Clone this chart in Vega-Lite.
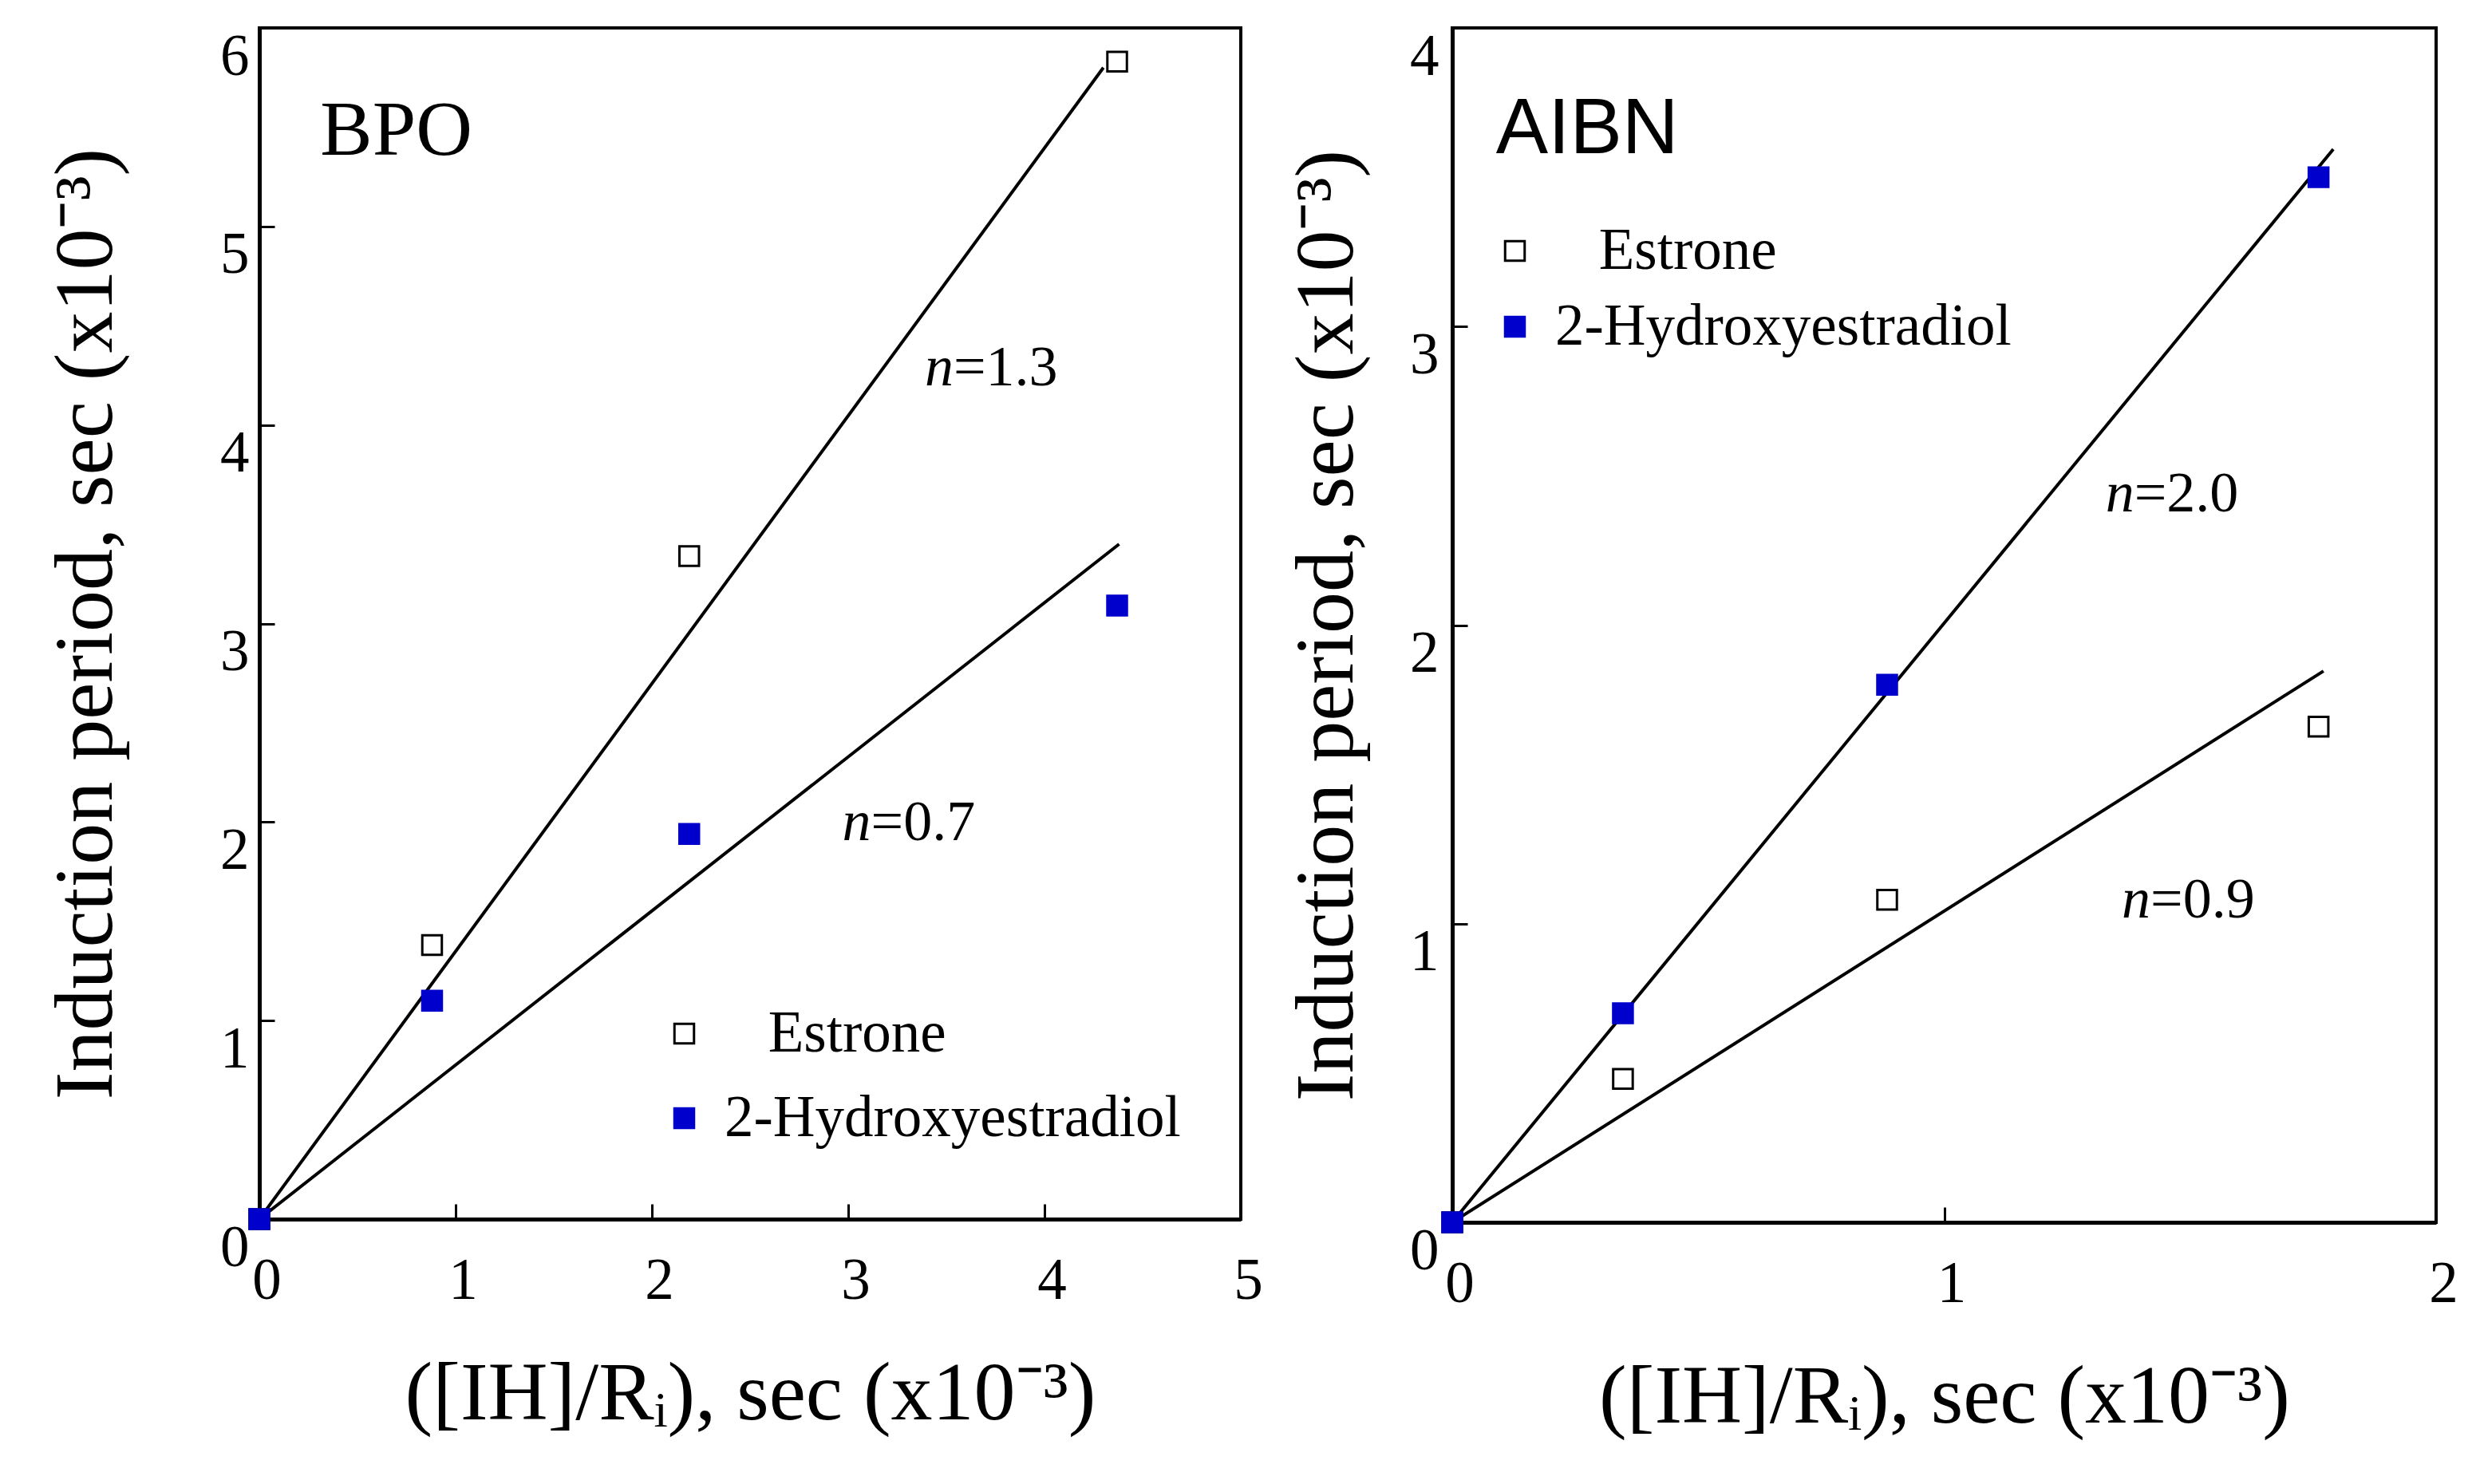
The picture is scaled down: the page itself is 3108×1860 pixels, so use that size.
{
  "$schema": "https://vega.github.io/schema/vega-lite/v6.json",
  "background": "white",
  "padding": {"left": 54, "top": 31, "right": 0, "bottom": 0},
  "spacing": 24,
  "config": {
    "font": "Liberation Serif",
    "view": {"stroke": "black", "strokeWidth": 4},
    "axis": {
      "grid": false,
      "domainColor": "black",
      "domainWidth": 5,
      "tickColor": "black",
      "tickWidth": 3,
      "tickSize": -19,
      "labelFlush": false,
      "labelOverlap": false,
      "labelFont": "Liberation Serif",
      "labelFontSize": 73,
      "labelColor": "black",
      "titleFont": "Liberation Serif",
      "titleFontSize": 104,
      "titleFontWeight": "normal",
      "titleColor": "black"
    },
    "legend": {
      "title": null,
      "labelFont": "Liberation Serif",
      "labelFontSize": 73,
      "labelColor": "black",
      "labelLimit": 2000,
      "symbolSize": 600,
      "symbolStrokeWidth": 3,
      "labelOffset": 14,
      "padding": 0
    }
  },
  "datasets": {
    "bpo_points": [
      {"x": 0, "y": 0, "series": "Estrone"},
      {"x": 0.88, "y": 1.38, "series": "Estrone"},
      {"x": 2.19, "y": 3.34, "series": "Estrone"},
      {"x": 4.37, "y": 5.83, "series": "Estrone"},
      {"x": 0, "y": 0, "series": "2-Hydroxyestradiol"},
      {"x": 0.88, "y": 1.1, "series": "2-Hydroxyestradiol"},
      {"x": 2.19, "y": 1.94, "series": "2-Hydroxyestradiol"},
      {"x": 4.37, "y": 3.09, "series": "2-Hydroxyestradiol"}
    ],
    "bpo_lines": [
      {"x": 0, "y": 0, "fit": "n=1.3"},
      {"x": 4.3, "y": 5.8, "fit": "n=1.3"},
      {"x": 0, "y": 0, "fit": "n=0.7"},
      {"x": 4.38, "y": 3.4, "fit": "n=0.7"}
    ],
    "aibn_points": [
      {"x": 0, "y": 0, "series": "Estrone"},
      {"x": 0.347, "y": 0.48, "series": "Estrone"},
      {"x": 0.884, "y": 1.08, "series": "Estrone"},
      {"x": 1.761, "y": 1.66, "series": "Estrone"},
      {"x": 0, "y": 0, "series": "2-Hydroxyestradiol"},
      {"x": 0.347, "y": 0.7, "series": "2-Hydroxyestradiol"},
      {"x": 0.884, "y": 1.8, "series": "2-Hydroxyestradiol"},
      {"x": 1.761, "y": 3.5, "series": "2-Hydroxyestradiol"}
    ],
    "aibn_lines": [
      {"x": 0, "y": 0, "fit": "n=2.0"},
      {"x": 1.791, "y": 3.594, "fit": "n=2.0"},
      {"x": 0, "y": 0, "fit": "n=0.9"},
      {"x": 1.771, "y": 1.846, "fit": "n=0.9"}
    ],
    "one": [{}]
  },
  "resolve": {
    "scale": {"fill": "independent", "stroke": "independent"},
    "legend": {"fill": "independent", "stroke": "independent"}
  },
  "hconcat": [
    {
      "width": 1230,
      "height": 1493,
      "encoding": {
        "x": {
          "type": "quantitative",
          "scale": {"domain": [0, 5], "nice": false},
          "axis": {"values": [0, 1, 2, 3, 4, 5], "format": "d", "labelPadding": 60, "labelOffset": 9, "titlePadding": 54},
          "title": "([IH]/Rᵢ), sec (x10⁻³)"
        },
        "y": {
          "type": "quantitative",
          "scale": {"domain": [0, 6], "nice": false},
          "axis": {"values": [0, 1, 2, 3, 4, 5, 6], "format": "d", "labelPadding": 32, "labelBaseline": "top", "titlePadding": 114},
          "title": "Induction period, sec (x10⁻³)"
        }
      },
      "layer": [
        {
          "data": {"name": "bpo_lines"},
          "mark": {"type": "line", "color": "black", "strokeWidth": 4},
          "encoding": {
            "x": {"field": "x", "type": "quantitative"},
            "y": {"field": "y", "type": "quantitative"},
            "detail": {"field": "fit"}
          }
        },
        {
          "data": {"name": "bpo_points"},
          "mark": {"type": "point", "shape": "square", "filled": true, "size": 600, "strokeWidth": 3, "opacity": 1},
          "encoding": {
            "x": {"field": "x", "type": "quantitative"},
            "y": {"field": "y", "type": "quantitative"},
            "fill": {
              "field": "series",
              "type": "nominal",
              "scale": {"domain": ["Estrone", "2-Hydroxyestradiol"], "range": ["white", "#0000cc"]},
              "legend": {
                "orient": "none",
                "legendX": 496,
                "legendY": 1224,
                "rowPadding": 32,
                "labelExpr": "datum.label == 'Estrone' ? '\u200b\u00a0\u00a0\u00a0Estrone' : datum.label"
              }
            },
            "stroke": {
              "field": "series",
              "type": "nominal",
              "scale": {"domain": ["Estrone", "2-Hydroxyestradiol"], "range": ["black", "#0000cc"]},
              "legend": {
                "orient": "none",
                "legendX": 496,
                "legendY": 1224,
                "rowPadding": 32,
                "labelExpr": "datum.label == 'Estrone' ? '\u200b\u00a0\u00a0\u00a0Estrone' : datum.label"
              }
            }
          }
        },
        {
          "data": {"name": "one"},
          "mark": {"type": "text", "align": "left", "baseline": "alphabetic", "fontSize": 98, "font": "Liberation Serif"},
          "encoding": {"x": {"datum": 0.31}, "y": {"datum": 5.36}, "text": {"value": "BPO"}}
        },
        {
          "data": {"name": "one"},
          "mark": {"type": "text", "align": "left", "baseline": "alphabetic", "fontSize": 72, "fontStyle": "italic"},
          "encoding": {"x": {"datum": 3.39}, "y": {"datum": 4.2}, "text": {"value": "n"}}
        },
        {
          "data": {"name": "one"},
          "mark": {"type": "text", "align": "left", "baseline": "alphabetic", "fontSize": 72, "dx": 36},
          "encoding": {"x": {"datum": 3.39}, "y": {"datum": 4.2}, "text": {"value": "=1.3"}}
        },
        {
          "data": {"name": "one"},
          "mark": {"type": "text", "align": "left", "baseline": "alphabetic", "fontSize": 72, "fontStyle": "italic"},
          "encoding": {"x": {"datum": 2.97}, "y": {"datum": 1.91}, "text": {"value": "n"}}
        },
        {
          "data": {"name": "one"},
          "mark": {"type": "text", "align": "left", "baseline": "alphabetic", "fontSize": 72, "dx": 36},
          "encoding": {"x": {"datum": 2.97}, "y": {"datum": 1.91}, "text": {"value": "=0.7"}}
        }
      ]
    },
    {
      "width": 1233,
      "height": 1497,
      "encoding": {
        "x": {
          "type": "quantitative",
          "scale": {"domain": [0, 2], "nice": false},
          "axis": {"values": [0, 1, 2], "labelExpr": "format(datum.value, 'd')", "labelPadding": 60, "labelOffset": 9, "titlePadding": 54},
          "title": "([IH]/Rᵢ), sec (x10⁻³)"
        },
        "y": {
          "type": "quantitative",
          "scale": {"domain": [0, 4], "nice": false},
          "axis": {"values": [0, 1, 2, 3, 4], "format": "d", "labelPadding": 36, "labelBaseline": "top", "titlePadding": 50},
          "title": "Induction period, sec (x10⁻³)"
        }
      },
      "layer": [
        {
          "data": {"name": "aibn_lines"},
          "mark": {"type": "line", "color": "black", "strokeWidth": 4},
          "encoding": {
            "x": {"field": "x", "type": "quantitative"},
            "y": {"field": "y", "type": "quantitative"},
            "detail": {"field": "fit"}
          }
        },
        {
          "data": {"name": "aibn_points"},
          "mark": {"type": "point", "shape": "square", "filled": true, "size": 600, "strokeWidth": 3, "opacity": 1},
          "encoding": {
            "x": {"field": "x", "type": "quantitative"},
            "y": {"field": "y", "type": "quantitative"},
            "fill": {
              "field": "series",
              "type": "nominal",
              "scale": {"domain": ["Estrone", "2-Hydroxyestradiol"], "range": ["white", "#0000cc"]},
              "legend": {
                "orient": "none",
                "legendX": 42,
                "legendY": 243,
                "rowPadding": 21,
                "labelExpr": "datum.label == 'Estrone' ? '\u200b\u00a0\u00a0\u00a0Estrone' : datum.label"
              }
            },
            "stroke": {
              "field": "series",
              "type": "nominal",
              "scale": {"domain": ["Estrone", "2-Hydroxyestradiol"], "range": ["black", "#0000cc"]},
              "legend": {
                "orient": "none",
                "legendX": 42,
                "legendY": 243,
                "rowPadding": 21,
                "labelExpr": "datum.label == 'Estrone' ? '\u200b\u00a0\u00a0\u00a0Estrone' : datum.label"
              }
            }
          }
        },
        {
          "data": {"name": "one"},
          "mark": {"type": "text", "align": "left", "baseline": "alphabetic", "fontSize": 98, "font": "Liberation Sans"},
          "encoding": {"x": {"datum": 0.089}, "y": {"datum": 3.58}, "text": {"value": "AIBN"}}
        },
        {
          "data": {"name": "one"},
          "mark": {"type": "text", "align": "left", "baseline": "alphabetic", "fontSize": 72, "fontStyle": "italic"},
          "encoding": {"x": {"datum": 1.328}, "y": {"datum": 2.38}, "text": {"value": "n"}}
        },
        {
          "data": {"name": "one"},
          "mark": {"type": "text", "align": "left", "baseline": "alphabetic", "fontSize": 72, "dx": 36},
          "encoding": {"x": {"datum": 1.328}, "y": {"datum": 2.38}, "text": {"value": "=2.0"}}
        },
        {
          "data": {"name": "one"},
          "mark": {"type": "text", "align": "left", "baseline": "alphabetic", "fontSize": 72, "fontStyle": "italic"},
          "encoding": {"x": {"datum": 1.361}, "y": {"datum": 1.02}, "text": {"value": "n"}}
        },
        {
          "data": {"name": "one"},
          "mark": {"type": "text", "align": "left", "baseline": "alphabetic", "fontSize": 72, "dx": 36},
          "encoding": {"x": {"datum": 1.361}, "y": {"datum": 1.02}, "text": {"value": "=0.9"}}
        }
      ]
    }
  ]
}
